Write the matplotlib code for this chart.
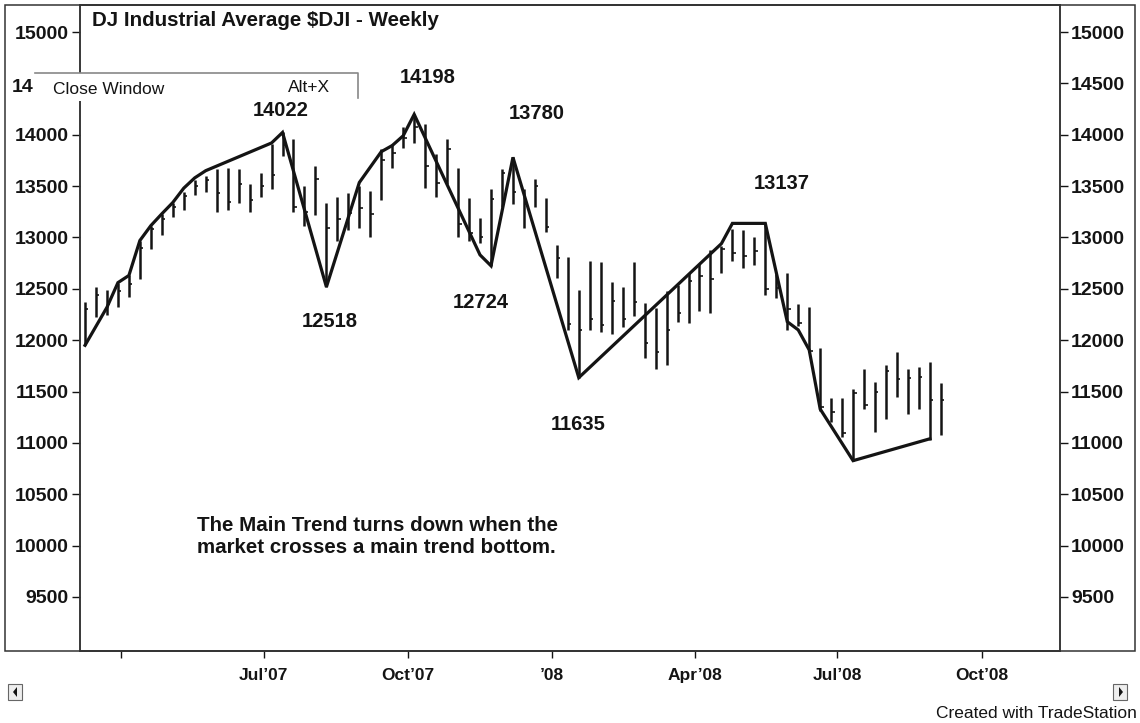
import numpy as np
import pandas as pd
import matplotlib
matplotlib.use("Agg")
import matplotlib.pyplot as plt
import matplotlib.dates as mdates
from matplotlib.patches import Rectangle, Polygon
from matplotlib.lines import Line2D

plt.rcParams["font.family"] = ["Liberation Sans", "DejaVu Sans"]
plt.rcParams["font.weight"] = "bold"

# weekly bars of the Dow
first_week = "2007-03-09"
highs = [12370, 12515, 12485, 12560, 12630, 12970, 13115, 13230, 13340, 13440,
         13555, 13600, 13670, 13680, 13670, 13525, 13630, 13910, 14022, 13960,
         13505, 13700, 13340, 13390, 13430, 13505, 13455, 13860, 13910, 14080,
         14198, 14105, 13815, 13960, 13680, 13380, 13185, 13475, 13670, 13780,
         13470, 13570, 13380, 12930, 12805, 12485, 12775, 12760, 12570, 12515,
         12760, 12360, 12315, 12475, 12535, 12650, 12745, 12875, 12920, 13085,
         13070, 13000, 13137, 12640, 12650, 12350, 12320, 11925, 11437, 11440,
         11520, 11715, 11595, 11760, 11880, 11715, 11735, 11790, 11585]
lows = [11950, 12225, 12245, 12320, 12420, 12600, 12890, 13020, 13195, 13265,
        13410, 13440, 13245, 13265, 13340, 13245, 13390, 13475, 13795, 13245,
        13115, 13215, 12518, 12970, 13070, 13090, 13000, 13360, 13680, 13875,
        13920, 13485, 13390, 13525, 13000, 12970, 12950, 12724, 13300, 13330,
        13090, 13300, 13050, 12610, 12100, 11635, 12100, 12080, 12060, 12125,
        12240, 11825, 11720, 11755, 12175, 12165, 12280, 12260, 12650, 12775,
        12700, 12730, 12435, 12415, 12100, 12140, 11880, 11310, 11200, 11060,
        10827, 11330, 11110, 11230, 11450, 11280, 11330, 11030, 11080]
closes = [12300, 12440, 12350, 12480, 12550, 12900, 13080, 13180, 13300, 13400,
          13500, 13560, 13430, 13350, 13520, 13360, 13500, 13610, 13900, 13300,
          13250, 13570, 13090, 13180, 13240, 13290, 13230, 13750, 13820, 13970,
          14080, 13700, 13530, 13860, 13130, 13040, 13000, 13370, 13630, 13440,
          13330, 13500, 13100, 12800, 12160, 12100, 12210, 12150, 12380, 12210,
          12370, 11970, 11880, 12100, 12260, 12580, 12620, 12600, 12890, 12850,
          12820, 12870, 12500, 12510, 12300, 12170, 11890, 11350, 11300, 11100,
          11490, 11370, 11500, 11700, 11620, 11630, 11640, 11420, 11420]

# main trend swing line: bar number and price at each turn
trend_bars = [0, 2, 3, 4, 5, 6, 7, 8, 9, 10, 11, 17, 18, 22, 25, 27, 28, 29, 30,
              36, 37, 39, 45, 58, 59, 62, 64, 65, 66, 67, 70, 77]
trend_vals = [11950, 12320, 12560, 12630, 12970, 13115, 13230, 13340, 13480, 13580,
              13650, 13920, 14022, 12518, 13535, 13835, 13895, 13990, 14198,
              12830, 12724, 13780, 11635, 12940, 13137, 13137, 12180, 12100,
              11905, 11330, 10827, 11040]

swing_text = ["14022", "14198", "13780", "13137", "12518", "12724", "11635"]
swing_bar = [18, 30, 39, 62, 22, 37, 45]
swing_price = [14022, 14198, 13780, 13137, 12518, 12724, 11635]

y_ticks = [9500, 10000, 10500, 11000, 11500, 12000, 12500, 13000, 13500, 14000, 14500, 15000]
x_tick_dates = ["2007-04-01", "2007-07-01", "2007-10-01", "2008-01-01", "2008-04-01", "2008-07-01", "2008-10-01"]
x_tick_labels = ["", "Jul\u201907", "Oct\u201907", "\u201908", "Apr\u201908", "Jul\u201908", "Oct\u201908"]

W, H = 1140, 723
dates = pd.date_range(first_week, periods=len(highs), freq="W-FRI")
x = mdates.date2num(dates.to_pydatetime())

fig = plt.figure(figsize=(W / 100, H / 100), dpi=100)
fig.patch.set_facecolor("white")
ax = fig.add_axes([80 / W, 1 - 651 / H, 980 / W, 646 / H])
ax_r = ax.twinx()

ink = "#141414"
ax.vlines(x, lows, highs, color=ink, lw=1.8)
ax.hlines(closes, x, x + 2.2, color=ink, lw=1.2)
ax.plot(x[trend_bars], trend_vals, color=ink, lw=2.3, solid_joinstyle="miter")

# swing labels: peaks above, bottoms below
offsets = [(-2, 22), (13, 37), (24, 44), (16, 40), (3, -35), (-10, -37), (-1, -47)]
for txt, b, p, off in zip(swing_text, swing_bar, swing_price, offsets):
    ax.annotate(txt, (x[b], p), xytext=off, textcoords="offset pixels",
                ha="center", va="center", fontsize=14.5, color=ink)

ax.set_xlim(x[0] - 3.2, x[0] + 622)
for a in (ax, ax_r):
    a.set_ylim(8974, 15263)
    a.set_yticks(y_ticks)
# left 14500 label is hidden by the popup, only "14" shows
ax.set_yticklabels(["" if v == 14500 else str(v) for v in y_ticks])
ax_r.set_yticklabels([str(v) for v in y_ticks])
ax.tick_params(axis="y", direction="out", length=6, width=1, pad=2, labelsize=14, colors=ink)
ax_r.tick_params(axis="y", direction="out", length=6, width=1, pad=2, labelsize=14, colors=ink)
ax.set_xticks(mdates.date2num(pd.to_datetime(x_tick_dates).to_pydatetime()))
ax.set_xticklabels(x_tick_labels)
ax.tick_params(axis="x", direction="out", length=5, width=1, pad=7, labelsize=12.5, colors=ink)
for a in (ax, ax_r):
    for s in a.spines.values():
        s.set_color("#333333")
        s.set_linewidth(1.1)


def fx(px):
    return px / W


def fy(py):
    return 1 - py / H


fig.text(fx(197), fy(516), "The Main Trend turns down when the\nmarket crosses a main trend bottom.",
         fontsize=14.8, color=ink, ha="left", va="top", linespacing=1.2)

# outer frame
fig.add_artist(Rectangle((fx(5), fy(651)), 1130 / W, 646 / H, fill=False,
                         ec="#333333", lw=1.1, transform=fig.transFigure))
fig.text(fx(92), fy(20), r"DJ Industrial Average \$DJI - Weekly", fontsize=14.8,
         color=ink, ha="left", va="center")

# the "Close Window" popup that sits over the chart
fig.text(fx(12), fy(87), "14", fontsize=14, color=ink, ha="left", va="center")
fig.add_artist(Rectangle((fx(35), fy(101)), 323 / W, 28 / H, fc="white", ec="none",
                         transform=fig.transFigure, zorder=10))
fig.add_artist(Line2D([fx(35), fx(358), fx(358)], [fy(73), fy(73), fy(98)], color="#888888",
                      lw=1.2, transform=fig.transFigure, zorder=11))
fig.text(fx(53), fy(89), "Close Window", fontsize=12.5, fontweight="normal", color=ink,
         ha="left", va="center", zorder=12)
fig.text(fx(288), fy(88), "Alt+X", fontsize=12.5, fontweight="normal", color=ink,
         ha="left", va="center", zorder=12)

# scroll bar arrows
for x0, pts in [(8, [(17, 687), (17, 697), (13, 692)]), (1113, [(1119, 687), (1119, 697), (1123, 692)])]:
    fig.add_artist(Rectangle((fx(x0), fy(700)), 14 / W, 16 / H, fc="#eeeeee", ec="#666666",
                             lw=0.8, transform=fig.transFigure))
    fig.add_artist(Polygon([(fx(a), fy(b)) for a, b in pts], closed=True, fc=ink, ec="none",
                           transform=fig.transFigure))

fig.text(fx(1137), fy(713), "Created with TradeStation", fontsize=12.5, fontweight="normal",
         color=ink, ha="right", va="center")

fig.savefig("out.png", dpi=100, facecolor="white")
